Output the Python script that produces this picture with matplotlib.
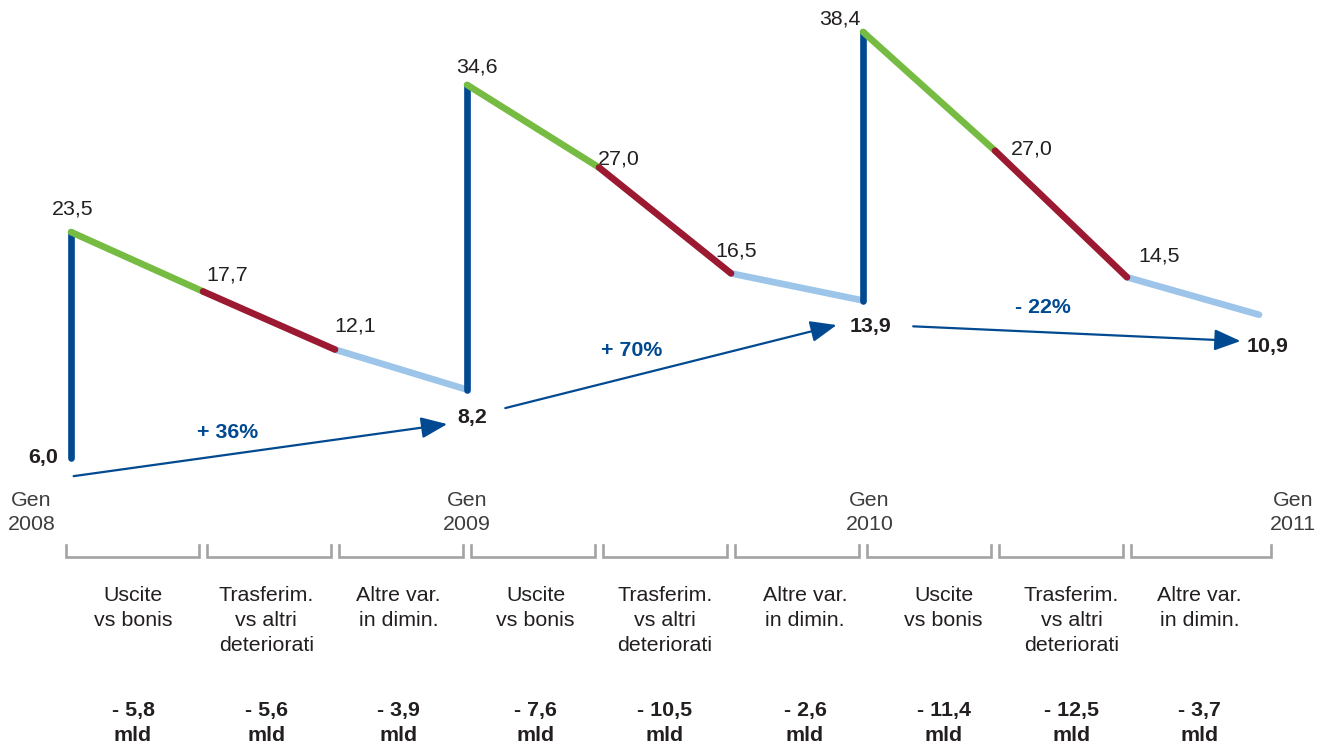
import matplotlib.pyplot as plt
from matplotlib.patches import FancyArrowPatch

plt.rcParams['font.family'] = ['Liberation Sans', 'DejaVu Sans']

# stock of bad loans (bn) at each step
years = ['Gen\n2008', 'Gen\n2009', 'Gen\n2010', 'Gen\n2011']
start_val = [6.0, 8.2, 13.9, 10.9]
peak_val = [23.5, 34.6, 38.4]
after_uscite_val = [17.7, 27.0, 27.0]
after_trasf_val = [12.1, 16.5, 14.5]

# the source chart is not drawn to scale: heights
start_h = [6.0, 11.3, 18.2, 17.1]
peak_h = [23.5, 34.9, 39.0]
after_uscite_h = [18.9, 28.5, 29.8]
after_trasf_h = [14.4, 20.3, 20.0]

steps = ['Uscite\nvs bonis', 'Trasferim.\nvs altri\ndeteriorati', 'Altre var.\nin dimin.'] * 3
flows = [-5.8, -5.6, -3.9, -7.6, -10.5, -2.6, -11.4, -12.5, -3.7]
growth = ['+ 36%', '+ 70%', '- 22%']

DARK = '#014a91'
GREEN = '#76bc43'
RED = '#9b1a31'
LIGHT = '#9dc5ea'
TXT = '#231f20'
GREY = '#a3a3a3'
FS = 15.4
LW = 4.8
LS = 1.38


def fmt(v):
    return f'{v:.1f}'.replace('.', ',')


fig = plt.figure(figsize=(13.27, 7.45), dpi=100)
ax = fig.add_axes([0, 0, 1, 1])
ax.set_xlim(-0.538, 9.515)
ax.set_ylim(-16.22, 41.47)
ax.axis('off')

line_kw = dict(lw=LW, solid_capstyle='round')
for i in range(3):
    x0 = 3 * i
    ax.plot([x0 + 2, x0 + 3], [after_trasf_h[i], start_h[i + 1]], color=LIGHT, zorder=2, **line_kw)
    ax.plot([x0, x0], [start_h[i], peak_h[i]], color=DARK, zorder=3, **line_kw)
    ax.plot([x0, x0 + 1], [peak_h[i], after_uscite_h[i]], color=GREEN, zorder=4, **line_kw)
    ax.plot([x0 + 1, x0 + 2], [after_uscite_h[i], after_trasf_h[i]], color=RED, zorder=5, **line_kw)

# value labels (offsets in pixels)
start_off = [(-28, 1), (5, -28), (7, -26), (9, -32)]
peak_off = [(2, 23), (10, 18), (-23, 13)]
uscite_off = [(24, 16), (20, 8), (37, 2)]
trasf_off = [(20, 24), (5, 22), (32, 21)]

for i in range(4):
    ax.annotate(fmt(start_val[i]), (3 * i, start_h[i]), xytext=start_off[i],
                textcoords='offset pixels', ha='center', va='center',
                fontsize=FS, fontweight='bold', color=TXT)
for i in range(3):
    x0 = 3 * i
    ax.annotate(fmt(peak_val[i]), (x0, peak_h[i]), xytext=peak_off[i],
                textcoords='offset pixels', ha='center', va='center', fontsize=FS, color=TXT)
    ax.annotate(fmt(after_uscite_val[i]), (x0 + 1, after_uscite_h[i]), xytext=uscite_off[i],
                textcoords='offset pixels', ha='center', va='center', fontsize=FS, color=TXT)
    ax.annotate(fmt(after_trasf_val[i]), (x0 + 2, after_trasf_h[i]), xytext=trasf_off[i],
                textcoords='offset pixels', ha='center', va='center', fontsize=FS, color=TXT)

# year-on-year arrows
arrows = [((0.02, 4.6), (2.85, 8.63)), ((3.29, 9.87), (5.80, 16.3)), ((6.38, 16.2), (8.86, 15.06))]
growth_pos = [(1.19, 8.01), (4.25, 14.29), (7.36, 17.69)]
for (a, b), lbl, (gx, gy) in zip(arrows, growth, growth_pos):
    ax.add_patch(FancyArrowPatch(a, b, arrowstyle='-|>,head_length=1.6,head_width=0.65',
                                 mutation_scale=10, color=DARK, lw=1.6,
                                 shrinkA=0, shrinkB=0, zorder=6))
    ax.text(gx, gy, lbl, ha='center', va='center', fontsize=FS,
            fontweight='bold', color=DARK)

# year labels
year_x = [-0.3, 3.0, 6.05, 9.26]
for x, lbl in zip(year_x, years):
    ax.text(x, 1.78, lbl, ha='center', va='center', fontsize=FS,
            color='#3d3d3d', linespacing=LS)

# brackets, step names and flows
label_x = [0.47, 1.48, 2.48, 3.52, 4.5, 5.56, 6.61, 7.58, 8.55]
for i in range(9):
    a = i + 0.03 if i else -0.04
    b = i + 0.97 if i < 8 else 9.09
    ax.plot([a, a, b, b], [-0.74, -1.67, -1.67, -0.74], color=GREY, lw=1.9,
            solid_joinstyle='miter')
    ax.text(label_x[i], -3.93, steps[i], ha='center', va='top', fontsize=FS,
            color=TXT, linespacing=LS)
    ax.text(label_x[i], -14.5, '- ' + fmt(-flows[i]) + '\nmld', ha='center', va='center',
            fontsize=FS, fontweight='bold', color=TXT, linespacing=LS)

fig.savefig('out.png', dpi=100)
